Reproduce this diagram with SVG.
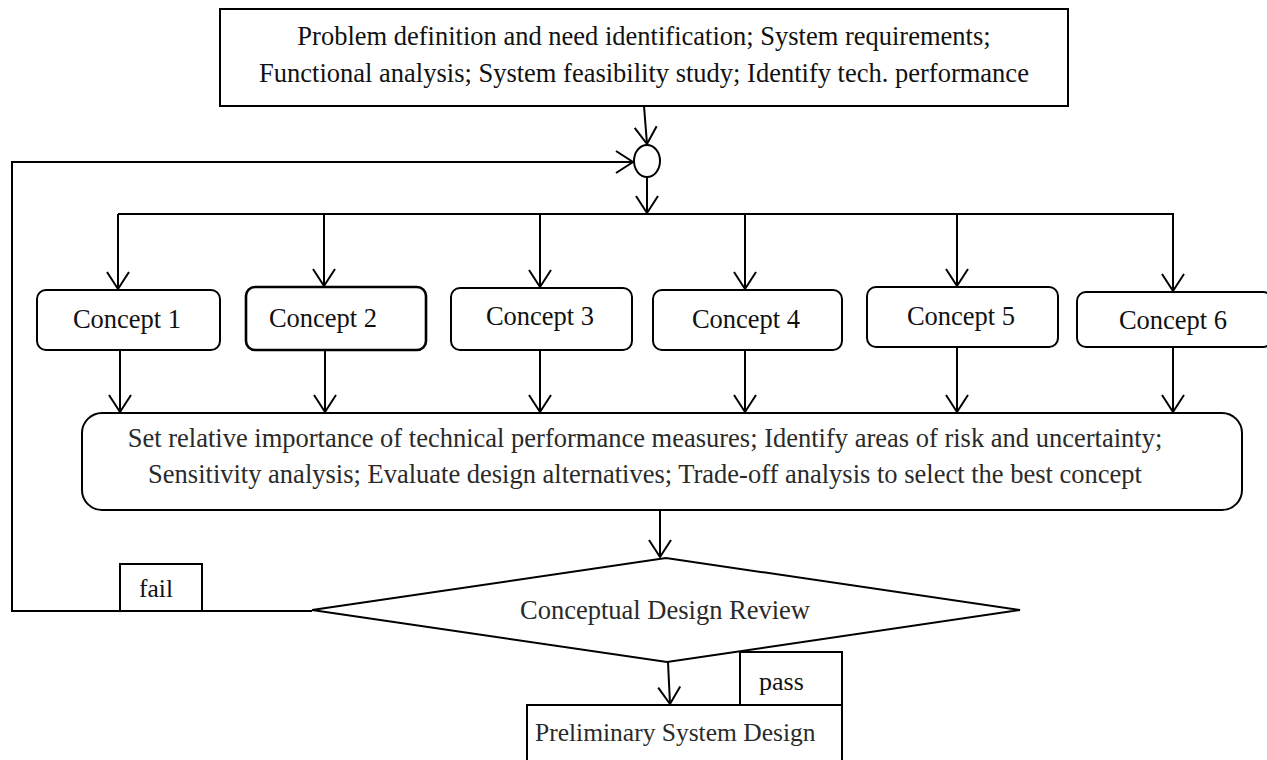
<svg xmlns="http://www.w3.org/2000/svg" width="1267" height="760" viewBox="0 0 1267 760">
<defs>
<style>
.box{fill:#fff;stroke:#000;stroke-width:2}
.thick{stroke-width:2.6}
.ln{fill:none;stroke:#000;stroke-width:2}
.t{font-family:"Liberation Serif","Times New Roman",serif;fill:#111}
.c{font-size:26.5px;text-anchor:middle}
.g{fill:#2a2a2a}
</style>
<marker id="ah" viewBox="-20 -13 22 26" markerWidth="22" markerHeight="26" refX="0" refY="0" orient="auto" markerUnits="userSpaceOnUse">
<path d="M-17,-11 L0,0 L-17,11" fill="none" stroke="#000" stroke-width="2"/>
</marker>
</defs>
<rect width="1267" height="760" fill="#fff"/>

<g id="connectors">
<line class="ln" x1="644" y1="106" x2="647" y2="144" marker-end="url(#ah)"/>
<polyline class="ln" points="312,611 12,611 12,162 633,162" marker-end="url(#ah)"/>
<line class="ln" x1="647" y1="177" x2="647" y2="213" marker-end="url(#ah)"/>
<line class="ln" x1="118" y1="214" x2="1174" y2="214"/>
<line class="ln" x1="118" y1="214" x2="118" y2="289" marker-end="url(#ah)"/>
<line class="ln" x1="324" y1="214" x2="324" y2="286" marker-end="url(#ah)"/>
<line class="ln" x1="540" y1="214" x2="540" y2="287" marker-end="url(#ah)"/>
<line class="ln" x1="745" y1="214" x2="745" y2="289" marker-end="url(#ah)"/>
<line class="ln" x1="957" y1="214" x2="957" y2="286" marker-end="url(#ah)"/>
<line class="ln" x1="1173" y1="214" x2="1173" y2="291" marker-end="url(#ah)"/>
<line class="ln" x1="120" y1="350" x2="120" y2="412" marker-end="url(#ah)"/>
<line class="ln" x1="325" y1="350" x2="325" y2="412" marker-end="url(#ah)"/>
<line class="ln" x1="540" y1="350" x2="540" y2="412" marker-end="url(#ah)"/>
<line class="ln" x1="745" y1="350" x2="745" y2="412" marker-end="url(#ah)"/>
<line class="ln" x1="957" y1="347" x2="957" y2="412" marker-end="url(#ah)"/>
<line class="ln" x1="1173" y1="347" x2="1173" y2="412" marker-end="url(#ah)"/>
<line class="ln" x1="660" y1="510" x2="660" y2="557" marker-end="url(#ah)"/>
<line class="ln" x1="668" y1="662" x2="670" y2="704" marker-end="url(#ah)"/>
</g>

<g id="top">
<rect class="box" x="220" y="9" width="848" height="97"/>
<text class="t" x="644" y="45" font-size="26.5" text-anchor="middle">Problem definition and need identification; System requirements;</text>
<text class="t" x="644" y="82" font-size="26.5" text-anchor="middle">Functional analysis; System feasibility study; Identify tech. performance</text>
</g>

<g id="junction">
<ellipse class="box" cx="647" cy="161" rx="13" ry="16"/>
</g>

<g id="concept1"><rect class="box" x="37" y="290" width="183" height="60" rx="9"/><text class="t c" x="127" y="328">Concept 1</text></g>
<g id="concept2"><rect class="box thick" x="246" y="287" width="180" height="63" rx="9"/><text class="t c" x="323" y="327">Concept 2</text></g>
<g id="concept3"><rect class="box" x="451" y="288" width="181" height="62" rx="9"/><text class="t c" x="540" y="325">Concept 3</text></g>
<g id="concept4"><rect class="box" x="653" y="290" width="189" height="60" rx="9"/><text class="t c" x="746" y="328">Concept 4</text></g>
<g id="concept5"><rect class="box" x="867" y="287" width="191" height="60" rx="9"/><text class="t c" x="961" y="325">Concept 5</text></g>
<g id="concept6"><rect class="box" x="1077" y="292" width="195" height="55" rx="9"/><text class="t c" x="1173" y="329">Concept 6</text></g>

<g id="evaluation">
<rect class="box" x="82" y="413" width="1160" height="97" rx="20"/>
<text class="t g" x="645" y="447" font-size="26.5" text-anchor="middle">Set relative importance of technical performance measures; Identify areas of risk and uncertainty;</text>
<text class="t g" x="645" y="483" font-size="26.5" text-anchor="middle">Sensitivity analysis; Evaluate design alternatives; Trade-off analysis to select the best concept</text>
</g>

<g id="review">
<polygon class="box" points="312,610 666,558 1020,610 667,662"/>
<text class="t g" x="665" y="619" font-size="26.5" text-anchor="middle">Conceptual Design Review</text>
</g>

<g id="fail">
<rect class="box" x="120" y="564" width="82" height="47"/>
<text class="t" x="139" y="597" font-size="25.5">fail</text>
</g>

<g id="preliminary">
<rect class="box" x="527" y="705" width="315" height="60"/>
<text class="t g" x="535" y="741" font-size="25.5">Preliminary System Design</text>
</g>

<g id="pass">
<rect class="box" x="740" y="652" width="102" height="53"/>
<text class="t" x="759" y="690" font-size="26">pass</text>
</g>
</svg>
